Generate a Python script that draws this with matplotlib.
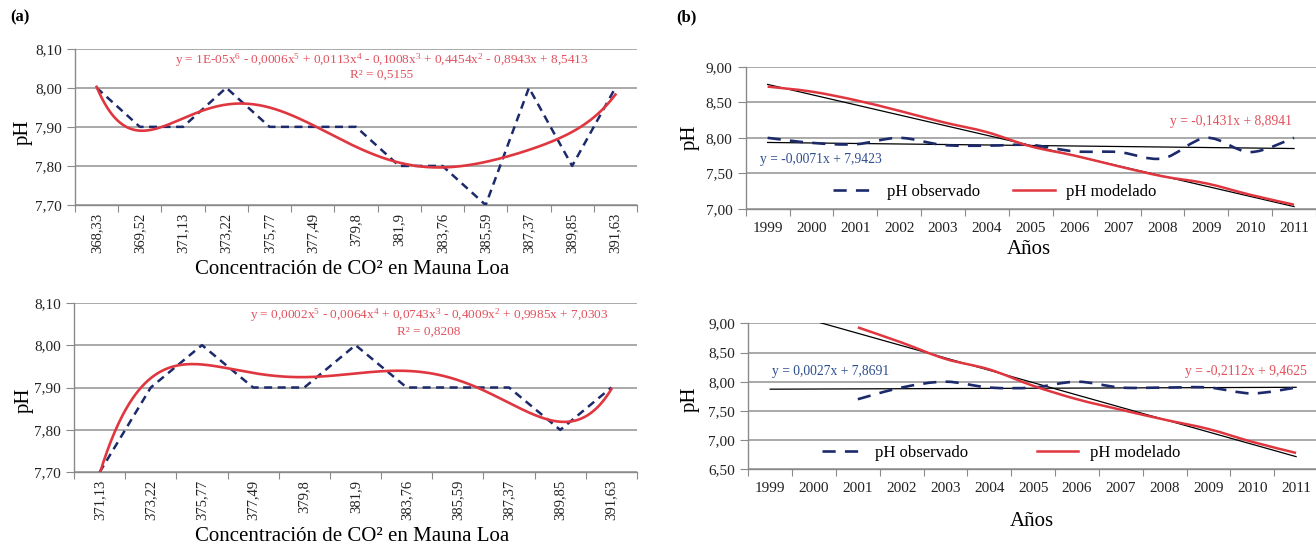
import numpy as np
import matplotlib
matplotlib.use("Agg")
import matplotlib.pyplot as plt
from matplotlib.path import Path
from matplotlib.patches import PathPatch
from matplotlib.lines import Line2D

plt.rcParams['font.family'] = ['Liberation Serif', 'DejaVu Serif']
plt.rcParams['mathtext.fontset'] = 'custom'
plt.rcParams['mathtext.rm'] = 'Liberation Serif'
plt.rcParams['mathtext.it'] = 'Liberation Serif:italic'
plt.rcParams['mathtext.bf'] = 'Liberation Serif:bold'

# ---------------- data ----------------
co2_a = ["368,33", "369,52", "371,13", "373,22", "375,77", "377,49", "379,8",
         "381,9", "383,76", "385,59", "387,37", "389,85", "391,63"]
ph_a = [8.00, 7.90, 7.90, 8.00, 7.90, 7.90, 7.90, 7.80, 7.80, 7.70, 8.00, 7.80, 8.00]

co2_c = ["371,13", "373,22", "375,77", "377,49", "379,8", "381,9", "383,76",
         "385,59", "387,37", "389,85", "391,63"]
ph_c = [7.70, 7.90, 8.00, 7.90, 7.90, 8.00, 7.90, 7.90, 7.90, 7.80, 7.90]

years = ["1999", "2000", "2001", "2002", "2003", "2004", "2005", "2006",
         "2007", "2008", "2009", "2010", "2011"]
obs_b = [8.00, 7.93, 7.91, 8.00, 7.90, 7.89, 7.90, 7.81, 7.80, 7.71, 8.00, 7.80, 8.00]
mod_b = [8.72, 8.65, 8.53, 8.38, 8.22, 8.08, 7.88, 7.75, 7.60, 7.46, 7.36, 7.20, 7.06]
years_d = years[2:]
obs_d = [7.70, 7.90, 8.00, 7.90, 7.90, 8.00, 7.90, 7.90, 7.90, 7.80, 7.90]
mod_d = [8.93, 8.67, 8.39, 8.21, 7.93, 7.70, 7.52, 7.35, 7.19, 6.97, 6.78]

# trend lines as printed in the chart (slope, intercept)
trend_b_obs = (-0.0071, 7.9423)
trend_b_mod = (-0.1431, 8.8941)
trend_d_obs = (0.0027, 7.8691)
trend_d_mod = (-0.2112, 9.4625)

eq_a = ("y = 1E-05x$^{6}$ - 0,0006x$^{5}$ + 0,0113x$^{4}$ - 0,1008x$^{3}$ + "
        "0,4454x$^{2}$ - 0,8943x + 8,5413", "R² = 0,5155")
eq_c = ("y = 0,0002x$^{5}$ - 0,0064x$^{4}$ + 0,0743x$^{3}$ - 0,4009x$^{2}$ + "
        "0,9985x + 7,0303", "R² = 0,8208")

# ---------------- style ----------------
W, H = 1316, 551
NAVY = '#1c2a6c'
RED = '#e0363f'
EQRED = '#e2505c'
EQBLUE = '#2e4d8e'
GRID = '#a3a3a3'
SPINE = '#8a8a8a'

fig = plt.figure(figsize=(W / 100, H / 100), dpi=100)


def px_axes(l, t, r, b):
    return fig.add_axes([l / W, 1 - b / H, (r - l) / W, (b - t) / H])


def style(ax, n, yticks, ylabels, xlabels, rot, xfs, xpad):
    ax.set_xlim(-0.5, n - 0.5)
    ax.set_ylim(yticks[0], yticks[-1])
    for s in ('top', 'right'):
        ax.spines[s].set_visible(False)
    for s in ('left', 'bottom'):
        ax.spines[s].set_color(SPINE)
        ax.spines[s].set_linewidth(1.0)
    ax.set_yticks(yticks)
    ax.set_yticklabels(ylabels, fontsize=11)
    ax.tick_params(axis='y', length=6, color=SPINE, pad=3.5, labelcolor='#222222')
    ax.set_xticks(np.arange(-0.5, n, 1.0))
    ax.set_xticklabels([])
    ax.tick_params(axis='x', which='major', length=5, color=SPINE)
    ax.set_xticks(np.arange(n), minor=True)
    ax.set_xticklabels(xlabels, minor=True, rotation=rot, fontsize=xfs,
                       color='#222222')
    ax.tick_params(axis='x', which='minor', length=0, pad=xpad)
    ax.yaxis.grid(True, color=GRID, linewidth=1.3)
    ax.set_axisbelow(True)


def smooth_path(xs, ys):
    pts = np.column_stack([xs, ys]).astype(float)
    n = len(pts)
    verts = [pts[0]]
    codes = [Path.MOVETO]
    for i in range(n - 1):
        p0 = pts[i - 1] if i > 0 else pts[i]
        p1 = pts[i]
        p2 = pts[i + 1]
        p3 = pts[i + 2] if i + 2 < n else pts[i + 1]
        c1 = p1 + (p2 - p0) / 6.0
        c2 = p2 - (p3 - p1) / 6.0
        verts += [c1, c2, p2]
        codes += [Path.CURVE4] * 3
    return Path(verts, codes)


# ---------------- (a) top-left ----------------
L1, T1, R1, B1 = 75, 48.7, 637, 205
ax1 = px_axes(L1, T1, R1, B1)
n1 = len(ph_a)
style(ax1, n1, [7.70, 7.80, 7.90, 8.00, 8.10],
      ["7,70", "7,80", "7,90", "8,00", "8,10"], co2_a, 90, 10.5, 5.5)
x1 = np.arange(n1)
ax1.plot(x1, ph_a, color=NAVY, lw=1.8, ls=(0, (3.2, 2.2)), zorder=3)
c1 = np.polyfit(x1 + 1, ph_a, 6)
xf = np.linspace(1, n1, 400)
ax1.plot(xf - 1, np.polyval(c1, xf), color=RED, lw=1.9, zorder=4)
ax1.text((382 - L1) / (R1 - L1), (B1 - 60) / (B1 - T1), eq_a[0], transform=ax1.transAxes,
         ha='center', va='center', fontsize=9.5, color=EQRED)
ax1.text((382 - L1) / (R1 - L1), (B1 - 75) / (B1 - T1), eq_a[1], transform=ax1.transAxes,
         ha='center', va='center', fontsize=9.5, color=EQRED)

# ---------------- (a) bottom-left ----------------
L2, T2, R2, B2 = 74, 302.7, 637, 472.3
ax2 = px_axes(L2, T2, R2, B2)
n2 = len(ph_c)
style(ax2, n2, [7.70, 7.80, 7.90, 8.00, 8.10],
      ["7,70", "7,80", "7,90", "8,00", "8,10"], co2_c, 90, 10.5, 5.5)
x2 = np.arange(n2)
ax2.plot(x2, ph_c, color=NAVY, lw=1.8, ls=(0, (3.2, 2.2)), zorder=3)
c2 = np.polyfit(x2 + 1, ph_c, 5)
xf2 = np.linspace(1, n2, 400)
ax2.plot(xf2 - 1, np.polyval(c2, xf2), color=RED, lw=1.9, zorder=4)
ax2.text((429 - L2) / (R2 - L2), (B2 - 315) / (B2 - T2), eq_c[0], transform=ax2.transAxes,
         ha='center', va='center', fontsize=9.5, color=EQRED)
ax2.text((429 - L2) / (R2 - L2), (B2 - 331.5) / (B2 - T2), eq_c[1], transform=ax2.transAxes,
         ha='center', va='center', fontsize=9.5, color=EQRED)

# ---------------- (b) top-right ----------------
L3, T3, R3, B3 = 745.7, 66.7, 1316, 209
ax3 = px_axes(L3, T3, R3, B3)
n3 = len(years)
style(ax3, n3, [7.0, 7.5, 8.0, 8.5, 9.0],
      ["7,00", "7,50", "8,00", "8,50", "9,00"], years, 0, 11, 9)
x3 = np.arange(n3)
xt = np.array([0, n3 - 1])
ax3.plot(xt, trend_b_obs[0] * (xt + 1) + trend_b_obs[1], color='black', lw=0.9, zorder=3)
ax3.plot(xt, trend_b_mod[0] * (xt + 1) + trend_b_mod[1], color='black', lw=0.9, zorder=3)
ax3.add_patch(PathPatch(smooth_path(x3, obs_b), fill=False, edgecolor=NAVY,
                        lw=1.9, ls=(0, (5, 3.5)), zorder=4))
ax3.add_patch(PathPatch(smooth_path(x3, mod_b), fill=False, edgecolor=RED,
                        lw=1.8, zorder=5))
ax3.text((760 - L3) / (R3 - L3), (B3 - 160) / (B3 - T3), "y = -0,0071x + 7,9423",
         transform=ax3.transAxes, ha='left', va='center', fontsize=9.8, color=EQBLUE)
ax3.text((1292 - L3) / (R3 - L3), (B3 - 121.7) / (B3 - T3), "y = -0,1431x + 8,8941",
         transform=ax3.transAxes, ha='right', va='center', fontsize=9.8, color=EQRED)

handles = [Line2D([], [], color=NAVY, lw=1.9, ls=(0, (5, 3.5))),
           Line2D([], [], color=RED, lw=1.8)]
ax3.legend(handles, ["pH observado", "pH modelado"], ncol=2, frameon=False,
           loc='center', bbox_to_anchor=((995 - L3) / (R3 - L3), (B3 - 191.7) / (B3 - T3)),
           fontsize=12, handlelength=2.5, handletextpad=0.7, columnspacing=2.0)

# ---------------- (b) bottom-right ----------------
L4, T4, R4, B4 = 748.3, 323.3, 1318, 469.3
ax4 = px_axes(L4, T4, R4, B4)
style(ax4, n3, [6.5, 7.0, 7.5, 8.0, 8.5, 9.0],
      ["6,50", "7,00", "7,50", "8,00", "8,50", "9,00"], years, 0, 11, 9)
x4 = np.arange(2, n3)
ax4.plot(xt, trend_d_obs[0] * (xt + 1) + trend_d_obs[1], color='black', lw=0.9, zorder=3)
ax4.plot(xt, trend_d_mod[0] * (xt + 1) + trend_d_mod[1], color='black', lw=0.9, zorder=3)
ax4.add_patch(PathPatch(smooth_path(x4, obs_d), fill=False, edgecolor=NAVY,
                        lw=1.9, ls=(0, (5, 3.5)), zorder=4))
ax4.add_patch(PathPatch(smooth_path(x4, mod_d), fill=False, edgecolor=RED,
                        lw=1.8, zorder=5))
ax4.text((772 - L4) / (R4 - L4), (B4 - 371.7) / (B4 - T4), "y = 0,0027x + 7,8691",
         transform=ax4.transAxes, ha='left', va='center', fontsize=9.8, color=EQBLUE)
ax4.text((1307 - L4) / (R4 - L4), (B4 - 371) / (B4 - T4), "y = -0,2112x + 9,4625",
         transform=ax4.transAxes, ha='right', va='center', fontsize=9.8, color=EQRED)
ax4.legend(handles, ["pH observado", "pH modelado"], ncol=2, frameon=False,
           loc='center', bbox_to_anchor=((1001 - L4) / (R4 - L4), (B4 - 452.7) / (B4 - T4)),
           fontsize=12, handlelength=2.5, handletextpad=0.7, columnspacing=4.1)

# ---------------- axis titles & panel labels ----------------
def ftext(x, y, s, **kw):
    fig.text(x / W, 1 - y / H, s, **kw)


ftext(352, 270, "Concentración de CO² en Mauna Loa", ha='center', va='center', fontsize=15)
ftext(352, 536.7, "Concentración de CO² en Mauna Loa", ha='center', va='center', fontsize=15)
ftext(23, 132, "pH", ha='center', va='center', rotation=90, fontsize=15)
ftext(24, 400, "pH", ha='center', va='center', rotation=90, fontsize=15)
ftext(690, 137, "pH", ha='center', va='center', rotation=90, fontsize=15)
ftext(690, 399, "pH", ha='center', va='center', rotation=90, fontsize=15)
ftext(1029, 250, "Años", ha='center', va='center', fontsize=15)
ftext(1032, 521.7, "Años", ha='center', va='center', fontsize=15)
ftext(20, 17, "(a)", ha='center', va='center', fontsize=12, fontweight='bold')
ftext(686, 17, "(b)", ha='center', va='center', fontsize=12, fontweight='bold')

fig.savefig("out.png", dpi=100)
